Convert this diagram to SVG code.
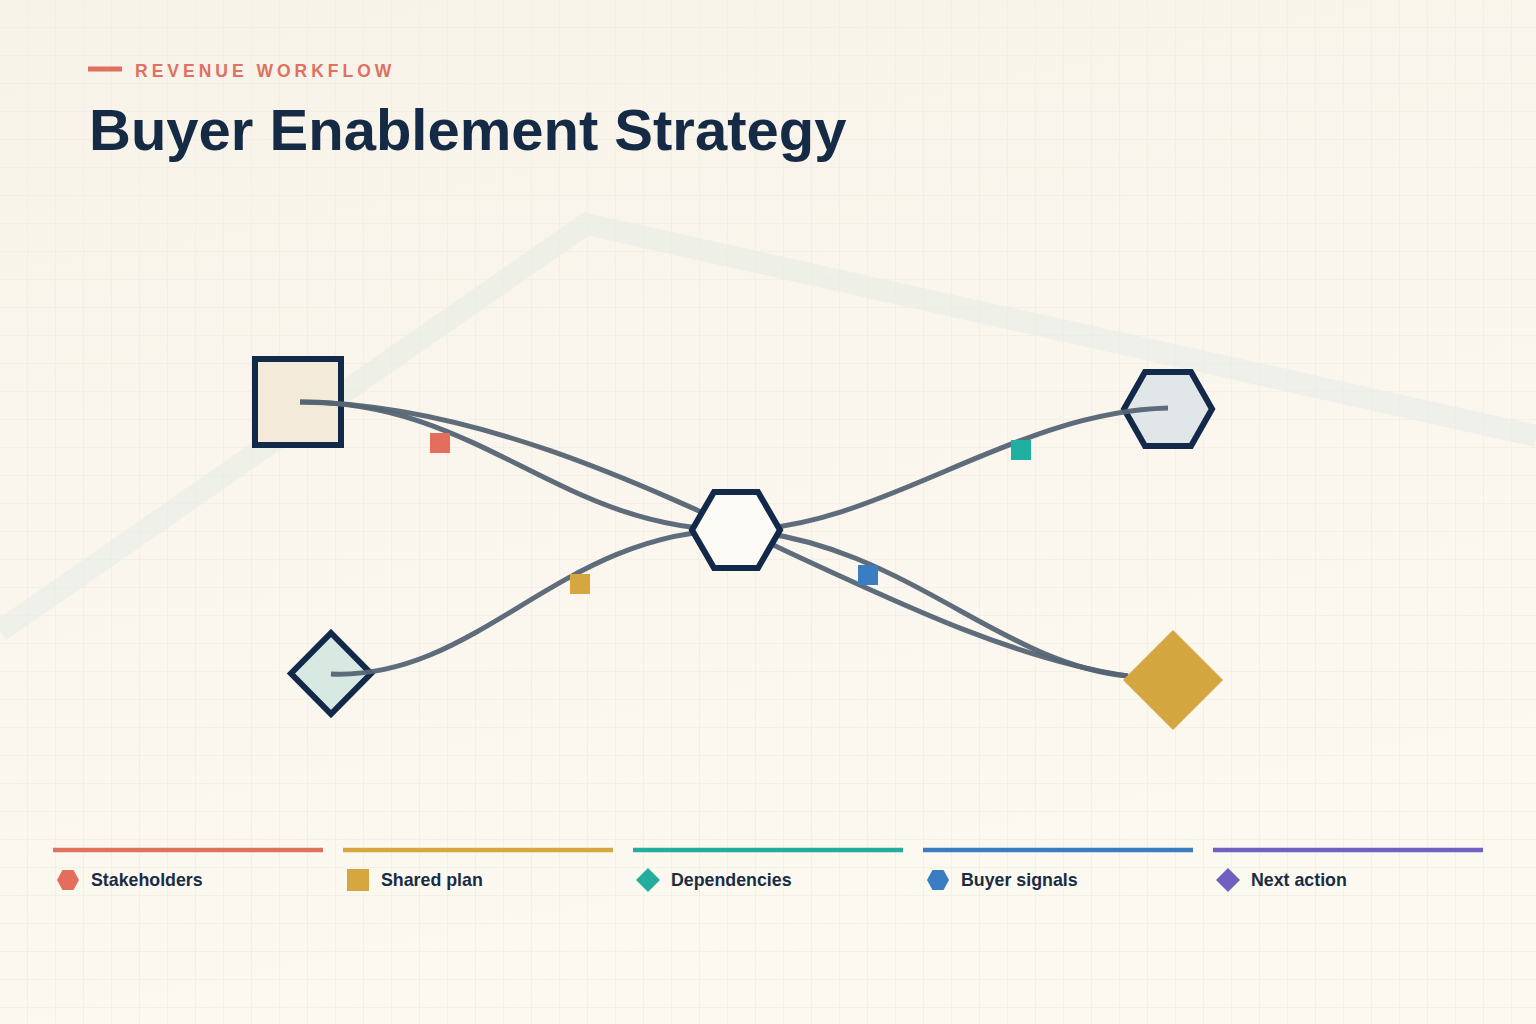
<svg xmlns="http://www.w3.org/2000/svg" width="1536" height="1024" viewBox="0 0 1536 1024">
  <defs>
    <linearGradient id="bg" x1="0" y1="0" x2="0.3" y2="1">
      <stop offset="0" stop-color="#f8f3e9"/>
      <stop offset="1" stop-color="#fcf9f1"/>
    </linearGradient>
    <pattern id="grid" width="28" height="28" patternUnits="userSpaceOnUse">
      <path d="M28 0 V28 M0 28 H28" fill="none" stroke="#eee8dc" stroke-width="1"/>
    </pattern>
  </defs>
  <style>
    .edge { fill: none; stroke: #556474; stroke-width: 5; stroke-linecap: butt; opacity: 0.95; }
    .node { stroke: #13294a; stroke-width: 6; stroke-linejoin: miter; }
    .legend-line { stroke-width: 4.5; }
    .legend-text { font-family: "Liberation Sans", Arial, sans-serif; font-weight: bold; font-size: 17.8px; fill: #1a2c44; }
  </style>
  <rect width="1536" height="1024" fill="url(#bg)"/>
  <rect width="1536" height="1024" fill="url(#grid)"/>
  <path d="M0 631 L586 224 L1536 436" fill="none" stroke="#e8ede7" stroke-width="22" opacity="0.65"/>

  <g id="header">
    <line x1="88" y1="69" x2="122" y2="69" stroke="#e07060" stroke-width="5"/>
    <text x="135" y="76.5" font-family="Liberation Sans, Arial, sans-serif" font-weight="bold" font-size="17.5" letter-spacing="4" fill="#e07060">REVENUE WORKFLOW</text>
    <text x="89" y="150" font-family="Liberation Sans, Arial, sans-serif" font-weight="bold" font-size="58" fill="#142a45">Buyer Enablement Strategy</text>
  </g>

  <g id="node-plan">
    <rect class="node" x="255" y="359" width="86" height="86" fill="#f3ead9"/>
  </g>
  <g id="node-dependencies">
    <path class="node" d="M331 633 L371 673.5 L331 714 L291 673.5 Z" fill="#d8e9e2"/>
  </g>
  <g id="node-signals">
    <path class="node" d="M1212 409 L1191 446 L1145 446 L1124 409 L1145 372 L1191 372 Z" fill="#e1e6e8"/>
  </g>

  <g id="connectors">
    <path class="edge" d="M300 402 C480 400 560 530 736 530"/>
    <path class="edge" d="M300 402 C600 405 880 640 1128 676"/>
    <path class="edge" d="M331 674 C480 680 560 530 736 530"/>
    <path class="edge" d="M736 530 C880 530 1010 412 1168 408"/>
    <path class="edge" d="M736 530 C900 540 1000 665 1128 676"/>
  </g>

  <g id="node-hub">
    <path class="node" d="M780 530 L758 568 L714 568 L692 530 L714 492 L758 492 Z" fill="#fdfbf6"/>
  </g>
  <g id="node-action">
    <path d="M1173 630 L1223 680 L1173 730 L1123 680 Z" fill="#d4a63f"/>
  </g>

  <g id="edge-markers">
    <rect x="430" y="433" width="20" height="20" fill="#e36e5e"/>
    <rect x="570" y="574" width="20" height="20" fill="#d6a740"/>
    <rect x="1011" y="440" width="20" height="20" fill="#1fb0a2"/>
    <rect x="858" y="565" width="20" height="20" fill="#3a7dc1"/>
  </g>

  <g id="legend">
    <line class="legend-line" x1="53" y1="850" x2="323" y2="850" stroke="#e07060"/>
    <line class="legend-line" x1="343" y1="850" x2="613" y2="850" stroke="#d6a740"/>
    <line class="legend-line" x1="633" y1="850" x2="903" y2="850" stroke="#22ad9f"/>
    <line class="legend-line" x1="923" y1="850" x2="1193" y2="850" stroke="#3a7dc0"/>
    <line class="legend-line" x1="1213" y1="850" x2="1483" y2="850" stroke="#7060c0"/>

    <path d="M79 880 L73.5 890 L62.5 890 L57 880 L62.5 870 L73.5 870 Z" fill="#e36e5e"/>
    <rect x="347" y="869" width="22" height="22" fill="#d6a740"/>
    <path d="M648 868 L660 880 L648 892 L636 880 Z" fill="#22ad9f"/>
    <path d="M949 880 L943.5 890 L932.5 890 L927 880 L932.5 870 L943.5 870 Z" fill="#3a7dc0"/>
    <path d="M1228 868 L1240 880 L1228 892 L1216 880 Z" fill="#7060c0"/>

    <text class="legend-text" x="91" y="886">Stakeholders</text>
    <text class="legend-text" x="381" y="886">Shared plan</text>
    <text class="legend-text" x="671" y="886">Dependencies</text>
    <text class="legend-text" x="961" y="886">Buyer signals</text>
    <text class="legend-text" x="1251" y="886">Next action</text>
  </g>
</svg>
